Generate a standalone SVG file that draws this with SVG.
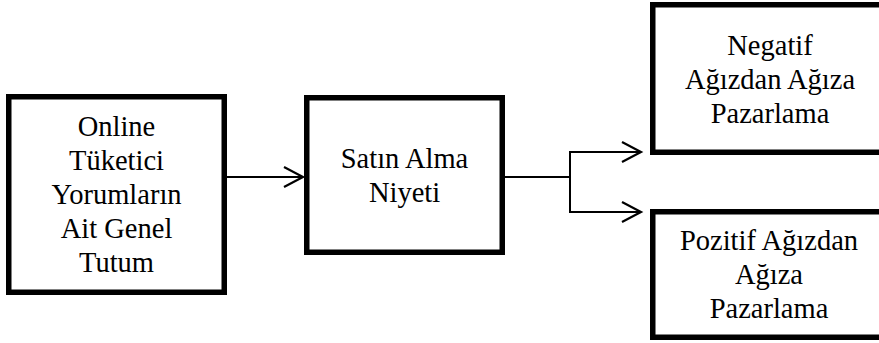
<svg xmlns="http://www.w3.org/2000/svg" width="879" height="343" viewBox="0 0 879 343" font-family="'Times New Roman', 'Liberation Serif', serif">
<defs>
<marker id="ah" markerUnits="userSpaceOnUse" markerWidth="24" markerHeight="26" refX="20" refY="11" orient="auto">
<path d="M1,1 L20,11 L1,21" fill="none" stroke="#000" stroke-width="2.2"/>
</marker>
</defs>
<rect width="879" height="343" fill="#fff"/>
<g id="connectors" fill="none" stroke="#000" stroke-width="2">
<line x1="227" y1="177" x2="303" y2="177" marker-end="url(#ah)"/>
<line x1="505" y1="177" x2="570" y2="177"/>
<line x1="570" y1="151" x2="570" y2="213"/>
<line x1="569" y1="152" x2="641" y2="152" marker-end="url(#ah)"/>
<line x1="569" y1="212" x2="641" y2="212" marker-end="url(#ah)"/>
</g>
<g id="node-online" font-family="'Times New Roman', 'Liberation Serif', serif" font-size="28.5" text-anchor="middle">
<rect x="8.75" y="96.75" width="215.5" height="195.5" fill="#fff" stroke="#000" stroke-width="5.5"/>
<text x="116.5" y="136">Online</text>
<text x="116.5" y="170">Tüketici</text>
<text x="116.5" y="204">Yorumların</text>
<text x="116.5" y="238">Ait Genel</text>
<text x="116.5" y="272">Tutum</text>
</g>
<g id="node-satin" font-family="'Times New Roman', 'Liberation Serif', serif" font-size="28.5" text-anchor="middle">
<rect x="306.75" y="97.75" width="195.5" height="154.5" fill="#fff" stroke="#000" stroke-width="5.5"/>
<text x="404.5" y="168">Satın Alma</text>
<text x="404.5" y="202">Niyeti</text>
</g>
<g id="node-negatif" font-family="'Times New Roman', 'Liberation Serif', serif" font-size="28.5" text-anchor="middle">
<rect x="652.75" y="4.75" width="240" height="147.5" fill="#fff" stroke="#000" stroke-width="5.5"/>
<text x="770" y="55">Negatif</text>
<text x="770" y="89">Ağızdan Ağıza</text>
<text x="770" y="123">Pazarlama</text>
</g>
<g id="node-pozitif" font-family="'Times New Roman', 'Liberation Serif', serif" font-size="28.5" text-anchor="middle">
<rect x="652.75" y="211.75" width="240" height="125.5" fill="#fff" stroke="#000" stroke-width="5.5"/>
<text x="769" y="250">Pozitif Ağızdan</text>
<text x="769" y="284">Ağıza</text>
<text x="769" y="318">Pazarlama</text>
</g>
</svg>
